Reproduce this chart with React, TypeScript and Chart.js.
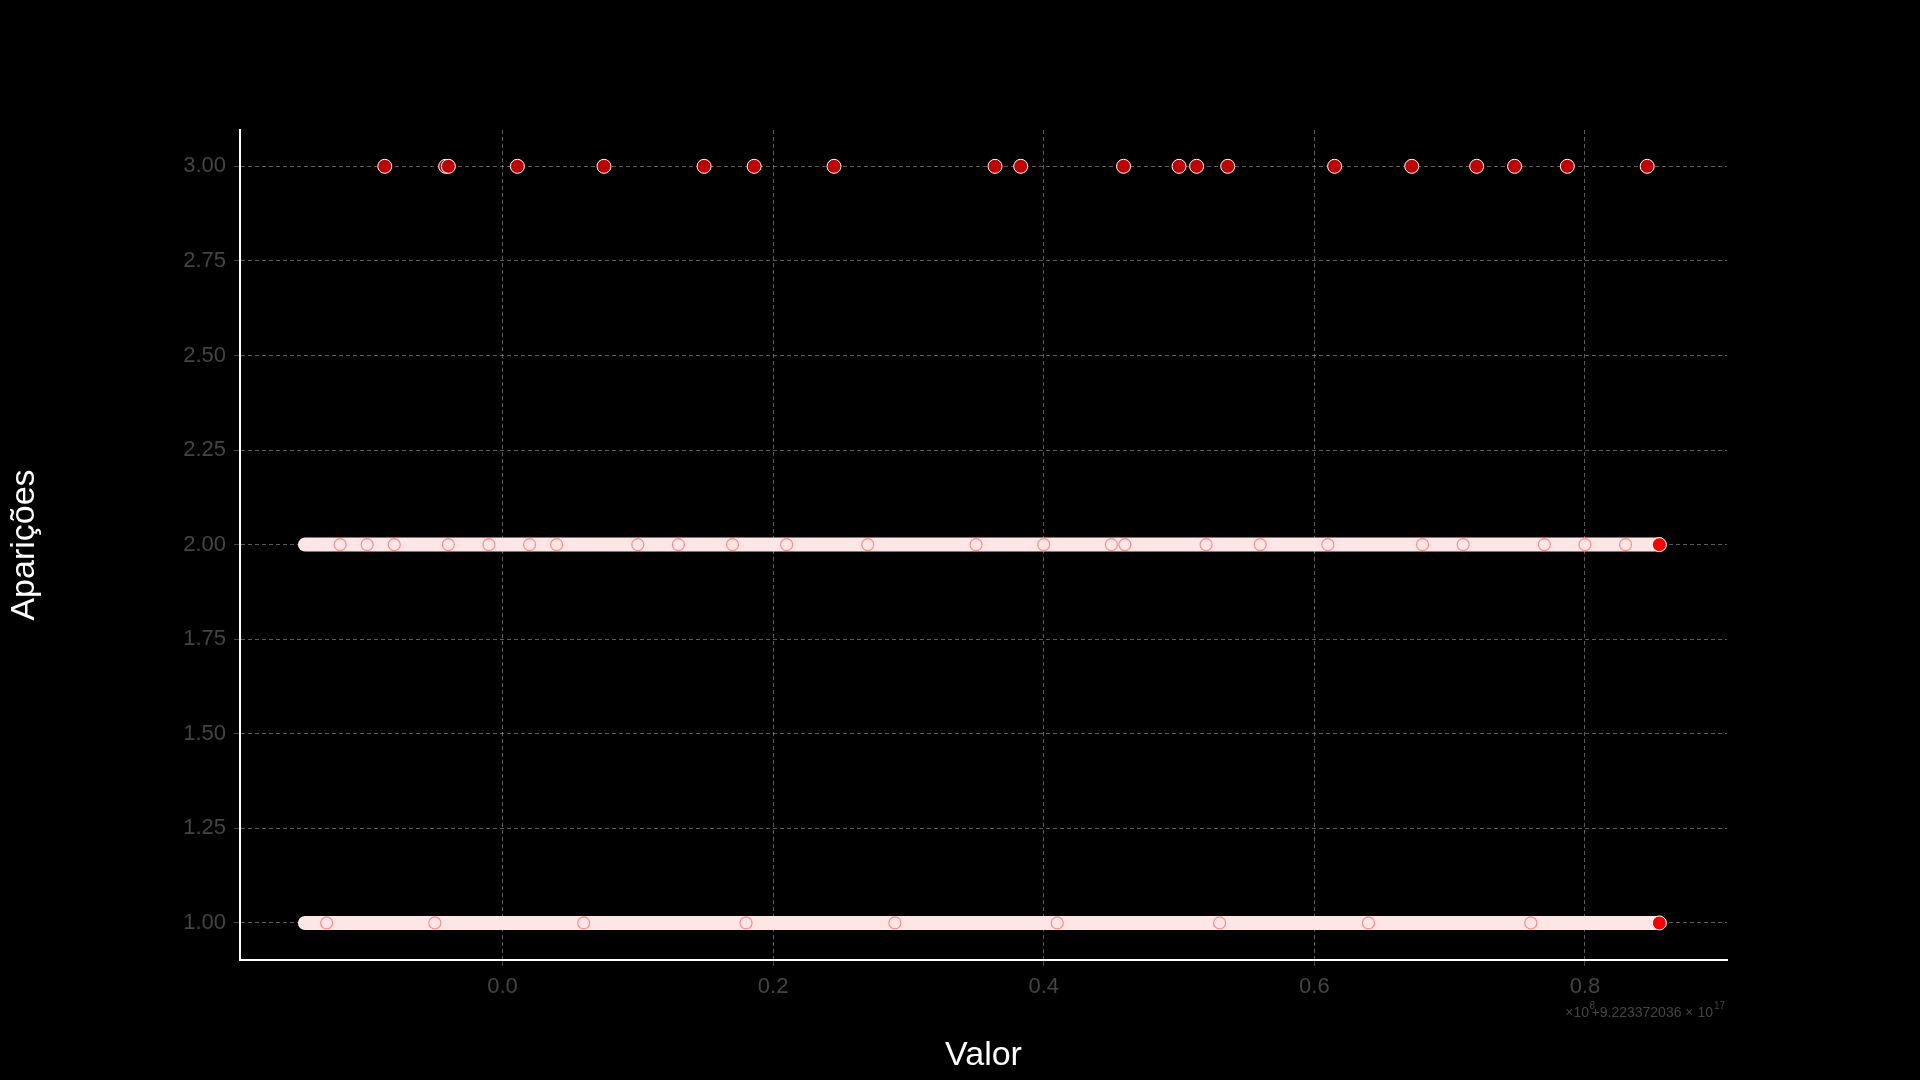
import React, { useEffect, useRef } from 'react';
import { Chart, registerables } from 'chart.js';

Chart.register(...registerables);

const lineStart = -0.146;
const lineEnd = 0.855;
// x values of the single points seen on the "3 appearances" row
const threeX = [-0.087, -0.042, -0.04, 0.011, 0.075, 0.149, 0.186, 0.245, 0.364, 0.383, 0.459, 0.5, 0.513, 0.536, 0.615, 0.672, 0.72, 0.748, 0.787, 0.846];
// some of the red-edged points visible inside the dense rows
const twoMarks = [-0.12, -0.1, -0.08, -0.04, -0.01, 0.02, 0.04, 0.1, 0.13, 0.17, 0.21, 0.27, 0.35, 0.4, 0.45, 0.46, 0.52, 0.56, 0.61, 0.68, 0.71, 0.77, 0.8, 0.83];
const oneMarks = [-0.13, -0.05, 0.06, 0.18, 0.29, 0.41, 0.53, 0.64, 0.76];
const yTicks = [1.0, 1.25, 1.5, 1.75, 2.0, 2.25, 2.5, 2.75, 3.0];

const offsetText = {
  id: 'offsetText',
  afterDraw(chart: any) {
    const { ctx, chartArea } = chart;
    ctx.save();
    ctx.fillStyle = '#444';
    ctx.textAlign = 'right';
    ctx.font = '14px "Liberation Sans"';
    ctx.fillText('×10', chartArea.right - 138, 1017);
    ctx.font = '10px "Liberation Sans"';
    ctx.fillText('8', chartArea.right - 132, 1009);
    ctx.font = '14px "Liberation Sans"';
    ctx.fillText('+9.223372036 × 10', chartArea.right - 14, 1017);
    ctx.font = '10px "Liberation Sans"';
    ctx.fillText('17', chartArea.right - 2, 1009);
    ctx.restore();
  },
};

const App: React.FC = () => {
  const canvasRef = useRef<HTMLCanvasElement | null>(null);

  useEffect(() => {
    document.body.style.margin = '0';
    document.body.style.background = '#000';
    if (!canvasRef.current) return;
    const ctx = canvasRef.current.getContext('2d');
    if (!ctx) return;

    const band = (y: number) => ({
      type: 'line' as const,
      data: [{ x: lineStart, y }, { x: lineEnd, y }],
      borderColor: '#ffe6e6',
      borderWidth: 14,
      borderCapStyle: 'round' as const,
      pointRadius: 0,
      order: 3,
    });
    const marks = (xs: number[], y: number) => ({
      type: 'scatter' as const,
      data: xs.map((x) => ({ x, y })),
      backgroundColor: 'rgba(255,255,255,0)',
      borderColor: 'rgba(255,60,60,0.55)',
      borderWidth: 1.2,
      pointRadius: 6,
      order: 2,
    });

    const chart = new Chart(ctx, {
      type: 'scatter',
      data: {
        datasets: [
          band(1),
          band(2),
          marks(twoMarks, 2),
          marks(oneMarks, 1),
          {
            type: 'scatter',
            data: [{ x: lineEnd, y: 1 }, { x: lineEnd, y: 2 }],
            backgroundColor: '#ff0000',
            borderColor: '#ffffff',
            borderWidth: 1,
            pointRadius: 7,
            order: 1,
          },
          {
            type: 'scatter',
            data: threeX.map((x) => ({ x, y: 3 })),
            backgroundColor: '#c00000',
            borderColor: '#ffffff',
            borderWidth: 1,
            pointRadius: 7,
            order: 1,
          },
        ] as any,
      },
      options: {
        animation: false,
        responsive: false,
        layout: { padding: { left: 0, right: 193, top: 130, bottom: 0 } },
        plugins: { legend: { display: false }, tooltip: { enabled: false } },
        scales: {
          x: {
            type: 'linear',
            min: -0.194,
            max: 0.905,
            afterFit: (s: any) => { s.height = 120; },
            afterBuildTicks: (s: any) => { s.ticks = [0, 0.2, 0.4, 0.6, 0.8].map((v) => ({ value: v })); },
            ticks: { color: '#444', font: { family: 'Liberation Sans', size: 22 }, padding: 8, callback: (v: any) => Number(v).toFixed(1) },
            grid: { color: 'rgba(200,200,200,0.45)', tickLength: 6, tickColor: '#444' },
            border: { color: '#fff', width: 2, dash: [] },
            title: { display: true, text: 'Valor', color: '#fff', font: { family: 'Liberation Sans', size: 34 }, padding: { top: 6 } },
          },
          y: {
            type: 'linear',
            min: 0.902,
            max: 3.096,
            afterFit: (s: any) => { s.width = 240; },
            afterBuildTicks: (s: any) => { s.ticks = yTicks.map((v) => ({ value: v })); },
            ticks: { color: '#444', font: { family: 'Liberation Sans', size: 22 }, padding: 8, callback: (v: any) => Number(v).toFixed(2) },
            grid: { color: 'rgba(200,200,200,0.45)', tickLength: 6, tickColor: '#444' },
            border: { color: '#fff', width: 2 },
            title: { display: true, text: 'Aparições', color: '#fff', font: { family: 'Liberation Sans', size: 34 }, padding: { bottom: 10 } },
          },
        },
      },
      plugins: [
        offsetText,
        {
          id: 'dash',
          beforeDraw(c: any) {
            c.scales.x.options.grid.borderDash = [4, 3];
          },
        },
      ],
    });
    // dashed grid lines
    (chart.options.scales as any).x.grid.borderDash = [4, 3];
    (chart.options.scales as any).x.border.dash = [4, 3];
    (chart.options.scales as any).y.border.dash = [4, 3];
    (chart.options.scales as any).x.border.display = true;
    chart.update();

    return () => chart.destroy();
  }, []);

  return <canvas ref={canvasRef} width={1920} height={1080} style={{ display: 'block', background: '#000' }} />;
};

export default App;
